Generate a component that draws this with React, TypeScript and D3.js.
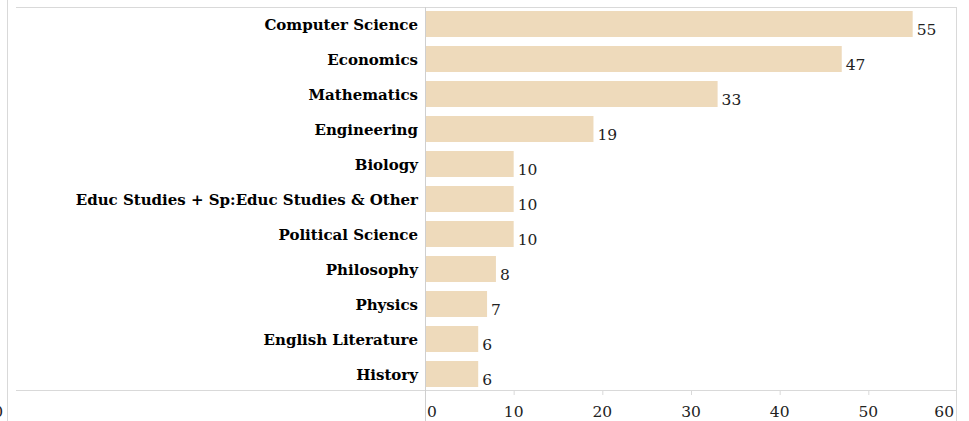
import React from "react";
import * as d3 from "d3";

const categories = [
  "Computer Science",
  "Economics",
  "Mathematics",
  "Engineering",
  "Biology",
  "Educ Studies + Sp:Educ Studies & Other",
  "Political Science",
  "Philosophy",
  "Physics",
  "English Literature",
  "History",
];
const values = [55, 47, 33, 19, 10, 10, 10, 8, 7, 6, 6];
const xTicks = [0, 10, 20, 30, 40, 50, 60];

const W = 969;
const H = 421;
const FONT = "'DejaVu Serif', serif";

export default function App() {
  const x = d3.scaleLinear().domain([0, 60]).range([425, 957]);
  const y = d3
    .scaleBand<string>()
    .domain(categories)
    .range([6.5, 391.5])
    .paddingInner(9 / 35)
    .paddingOuter(4.5 / 35);
  const bw = y.bandwidth();
  const grey = "#d9d9d9";
  return (
    <svg
      width={W}
      height={H}
      style={{ position: "absolute", left: 0, top: 0, background: "#fff" }}
    >
      {/* pane borders */}
      <line x1={7.5} x2={7.5} y1={0} y2={H} stroke={grey} />
      <line x1={16} x2={957} y1={7.5} y2={7.5} stroke={grey} />
      <line x1={956.5} x2={956.5} y1={7} y2={H} stroke={grey} />
      <line x1={16} x2={957} y1={390.5} y2={390.5} stroke={grey} />
      <line x1={425.5} x2={425.5} y1={7} y2={H} stroke="#cfcfcf" />
      <text
        x={3}
        y={417}
        textAnchor="end"
        fontFamily={FONT}
        fontSize={15.5}
        fill="#222"
      >
        0
      </text>
      {/* bars */}
      {categories.map((c, i) => {
        const y0 = y(c)!;
        return (
          <g key={c}>
            <rect
              x={x(0) + 1}
              y={y0}
              width={x(values[i]) - x(0) - 1}
              height={bw}
              fill="#eedabb"
            />
            <text
              x={418}
              y={y0 + bw / 2 + 6}
              textAnchor="end"
              fontFamily={FONT}
              fontWeight="bold"
              fontSize={15}
              fill="#000"
            >
              {c}
            </text>
            <text
              x={x(values[i]) + 4}
              y={y0 + bw - 2}
              fontFamily={FONT}
              fontSize={15.5}
              fill="#222"
            >
              {values[i]}
            </text>
          </g>
        );
      })}
      {/* x axis ticks */}
      {xTicks.map((t, i) => (
        <g key={t}>
          {i > 0 && i < xTicks.length - 1 && (
            <line
              x1={x(t) + 0.5}
              x2={x(t) + 0.5}
              y1={390}
              y2={395}
              stroke={grey}
            />
          )}
          <text
            x={i === 0 ? x(t) + 2 : i === xTicks.length - 1 ? x(t) - 3 : x(t)}
            y={417}
            textAnchor={
              i === 0 ? "start" : i === xTicks.length - 1 ? "end" : "middle"
            }
            fontFamily={FONT}
            fontSize={15.5}
            fill="#222"
          >
            {t}
          </text>
        </g>
      ))}
    </svg>
  );
}
